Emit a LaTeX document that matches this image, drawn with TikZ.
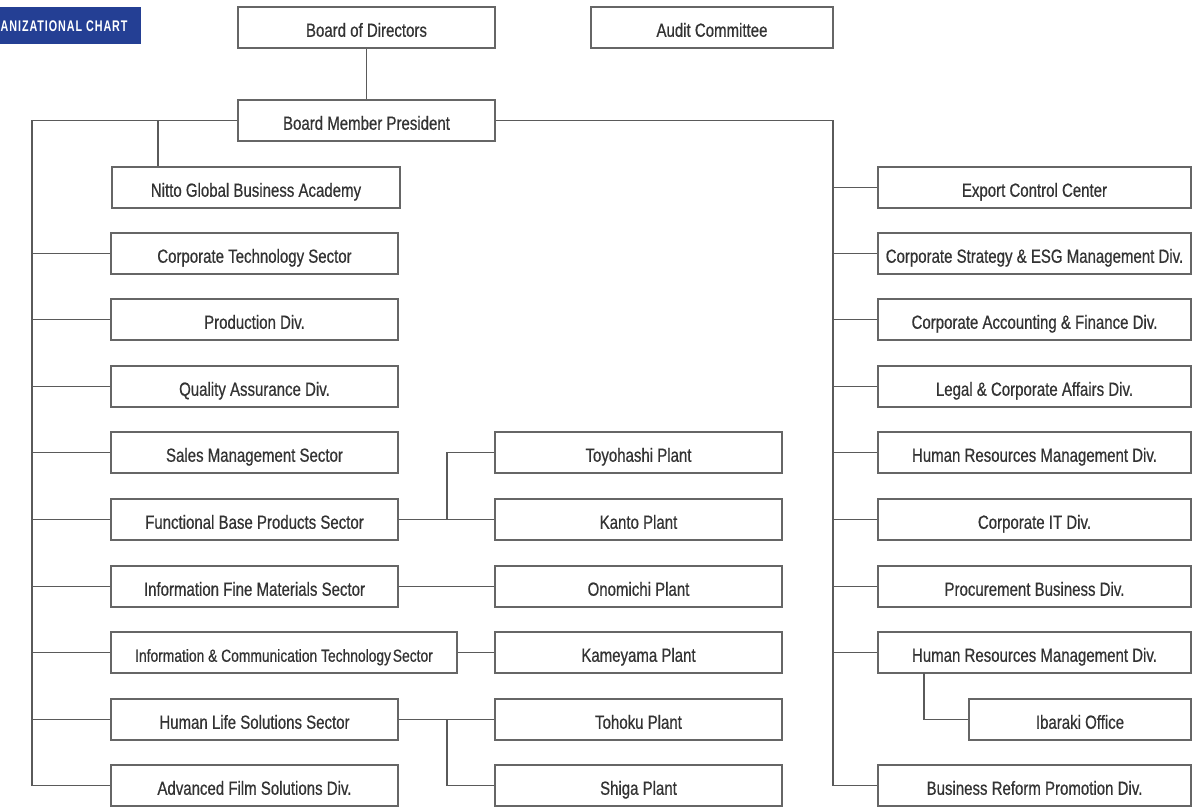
\documentclass[tikz,border=0pt]{standalone}
\usepackage{fontspec}
\setmainfont[FakeStretch=0.79,FakeBold=0.6]{Liberation Sans}
\newfontfamily\bannerfont[FakeStretch=0.7,LetterSpace=6]{Liberation Sans}
\definecolor{boxgray}{HTML}{666666}
\definecolor{linegray}{HTML}{5A5A5A}
\definecolor{txtgray}{HTML}{333333}
\definecolor{bannerblue}{HTML}{243F94}
\tikzset{
  box/.style={draw=boxgray, line width=1.1pt, inner sep=0pt, text=txtgray, font=\fontsize{19}{21}\selectfont, minimum height=41pt, text height=18.5pt, text depth=0pt},
  lbox/.style={box, minimum width=287pt},
  pbox/.style={box, minimum width=287pt},
  rbox/.style={box, minimum width=313pt},
  conn/.style={draw=linegray, line width=1.1pt}
}
\begin{document}
\begin{tikzpicture}[x=1pt,y=-1pt]
\useasboundingbox (0,0) rectangle (1199,807);
% banner
\fill[bannerblue] (0,7) rectangle (141,44);
\node[anchor=west, inner sep=0pt, text=white, font=\bannerfont\bfseries\fontsize{15.4}{17}\selectfont] (banner) at (0.5,26) {ANIZATIONAL CHART};
% top
\node[box, minimum width=257pt] (bod) at (366.5,27.5) {Board of Directors};
\node[box, minimum width=242pt] (audit) at (712,27.5) {Audit Committee};
\node[box, minimum width=257pt] (bmp) at (366.5,120.5) {Board Member President};
% left column
\node[box, minimum width=288pt] (ngba) at (256,187.5) {Nitto Global Business Academy};
\node[lbox] (ctech) at (254.5,253.5) {Corporate Technology Sector};
\node[lbox] (prod) at (254.5,319.5) {Production Div.};
\node[lbox] (qa) at (254.5,386.5) {Quality Assurance Div.};
\node[lbox] (sales) at (254.5,452.5) {Sales Management Sector};
\node[lbox] (fbp) at (254.5,519.5) {Functional Base Products Sector};
\node[lbox] (ifm) at (254.5,586.5) {Information Fine Materials Sector};
\node[box, minimum width=346pt] (ict) at (284,652.5) {\fontsize{17.5}{19}\selectfont Information \& Communication Technology\kern-2pt\ Sector};
\node[lbox] (hls) at (254.5,719.5) {Human Life Solutions Sector};
\node[lbox] (afs) at (254.5,785.5) {Advanced Film Solutions Div.};
% plants
\node[pbox] (toyo) at (638.5,452.5) {Toyohashi Plant};
\node[pbox] (kanto) at (638.5,519.5) {Kanto Plant};
\node[pbox] (onom) at (638.5,586.5) {Onomichi Plant};
\node[pbox] (kame) at (638.5,652.5) {Kameyama Plant};
\node[pbox] (toho) at (638.5,719.5) {Tohoku Plant};
\node[pbox] (shiga) at (638.5,785.5) {Shiga Plant};
% right column
\node[rbox] (exp) at (1034.5,187.5) {Export Control Center};
\node[rbox] (cse) at (1034.5,253.5) {Corporate Strategy \& ESG Management Div.};
\node[rbox] (caf) at (1034.5,319.5) {Corporate Accounting \& Finance Div.};
\node[rbox] (lca) at (1034.5,386.5) {Legal \& Corporate Affairs Div.};
\node[rbox] (hrm) at (1034.5,452.5) {Human Resources Management Div.};
\node[rbox] (cit) at (1034.5,519.5) {Corporate IT Div.};
\node[rbox] (proc) at (1034.5,586.5) {Procurement Business Div.};
\node[rbox] (hrm2) at (1034.5,652.5) {Human Resources Management Div.};
\node[box, minimum width=222pt] (ibar) at (1080,719.5) {Ibaraki Office};
\node[rbox] (brp) at (1034.5,785.5) {Business Reform Promotion Div.};
% coordinates
\coordinate (lt) at (32,121);
\coordinate (ltb) at (32,786);
\coordinate (rtb) at (833,786);
\coordinate (nj) at (158,121);
\coordinate (j1) at (447,519.5);
\coordinate (j2) at (447,719.5);
\coordinate (j3) at (924,673);
% connectors
\draw[conn] (bod.south) -- (bmp.north);
\draw[conn] (bmp.west) -| (ltb);
\draw[conn] (bmp.east) -| (rtb);
\draw[conn] (nj) -- (nj |- ngba.north);
\foreach \n in {ctech,prod,qa,sales,fbp,ifm,ict,hls,afs}
  \draw[conn] (lt |- \n.west) -- (\n.west);
\foreach \n in {exp,cse,caf,lca,hrm,cit,proc,hrm2,brp}
  \draw[conn] (rtb |- \n.west) -- (\n.west);
\draw[conn] (fbp.east) -- (kanto.west);
\draw[conn] (j1) |- (toyo.west);
\draw[conn] (ifm.east) -- (onom.west);
\draw[conn] (ict.east) -- (kame.west);
\draw[conn] (hls.east) -- (toho.west);
\draw[conn] (j2) |- (shiga.west);
\draw[conn] (j3) |- (ibar.west);
\end{tikzpicture}
\end{document}
